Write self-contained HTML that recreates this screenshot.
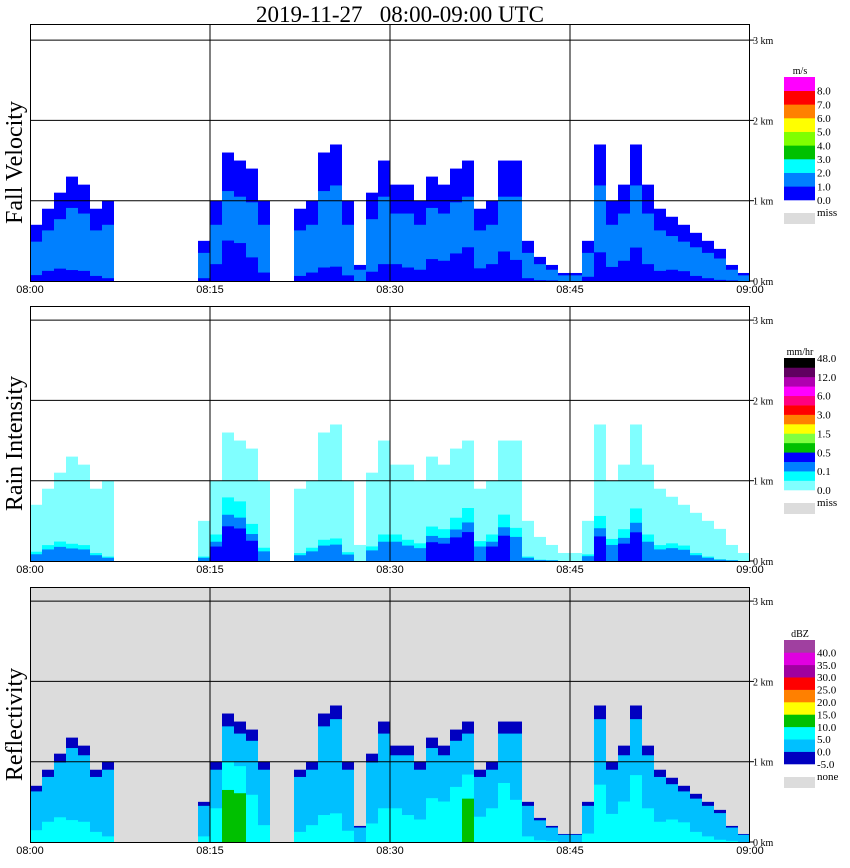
<!DOCTYPE html>
<html><head><meta charset="utf-8"><style>
html,body{margin:0;padding:0;background:#fff;}
svg{display:block;font-family:"Liberation Serif",serif;}
.t{font-family:"Liberation Sans",sans-serif;font-size:11px;}
</style></head><body>
<svg id="chart" width="850" height="868" viewBox="0 0 850 868" xmlns="http://www.w3.org/2000/svg">
<text x="400" y="22" text-anchor="middle" font-size="23" style="white-space:pre">2019-11-27&#160;&#160;&#160;08:00-09:00 UTC</text>
<g id="panels"></g>
</svg>
<script>
const minutes = [];
for (let i = 0; i < 60; i++) minutes.push(i);
const echoTop = [0.7,0.9,1.1,1.3,1.2,0.9,1.0,0,0,0,0,0,0,0,0.5,1.0,1.6,1.5,1.4,1.0,0,0,0.9,1.0,1.6,1.7,1.0,0.2,1.1,1.5,1.2,1.2,1.0,1.3,1.2,1.4,1.5,0.9,1.0,1.5,1.5,0.5,0.3,0.2,0.1,0.1,0.5,1.7,1.0,1.2,1.7,1.2,0.9,0.8,0.7,0.6,0.5,0.4,0.2,0.1];
const coreLevel = [0.3,0.4,0.4,0.3,0.3,0.2,0.1,0,0,0,0,0,0,0,0.2,0.6,0.9,0.9,0.6,0.3,0,0,0.2,0.3,0.3,0.3,0.2,0,0.3,0.4,0.5,0.4,0.4,0.6,0.6,0.7,0.8,0.5,0.6,0.7,0.5,0.2,0.1,0.1,0,0,0.3,0.6,0.5,0.6,0.7,0.5,0.4,0.5,0.5,0.3,0.2,0.1,0.1,0];
const timeTicks = ["08:00","08:15","08:30","08:45","09:00"];
const heightTicks = ["0 km","1 km","2 km","3 km"];
const velColors = ["#0000ff","#0080ff","#00ffff","#00c000","#80ff00","#ffff00","#ff8000","#ff0000","#ff00ff"];
const velLabels = ["0.0","1.0","2.0","3.0","4.0","5.0","6.0","7.0","8.0"];
const rainColors = ["#80ffff","#00ffff","#0080ff","#0000ff","#00c000","#80ff40","#ffff00","#ff8000","#ff0000","#ff0080","#ff00ff","#b000b0","#600060","#000000"];
const rainLabels = ["0.0","0.1","0.5","1.5","3.0","6.0","12.0","48.0"];
const dbzColors = ["#0000c0","#00c0ff","#00ffff","#00c000","#ffff00","#ff8000","#ff0000","#a000a0","#e000e0","#a040a0"];
const dbzLabels = ["-5.0","0.0","5.0","10.0","15.0","20.0","25.0","30.0","35.0","40.0"];

const NS="http://www.w3.org/2000/svg";
const G=document.getElementById('panels');
function mk(tag,attrs,parent){const e=document.createElementNS(NS,tag);for(const k in attrs)e.setAttribute(k,attrs[k]);(parent||G).appendChild(e);return e;}
const X0=30,X1=750;
function xScale(m){return X0+(X1-X0)*m/60;}

const panels=[
 {name:"fall-velocity",title:"Fall Velocity",top:24,zero:281,bg:"#ffffff",unit:"m/s",colors:velColors,labels:velLabels,legTop:77,legBot:200,miss:"miss",labEvery:1,
  layers:(c)=>[[1,"#0000ff"],[0.7,"#0080ff"],[0.35*c,"#0000ff"]]},
 {name:"rain-intensity",title:"Rain Intensity",top:306,zero:561,bg:"#ffffff",unit:"mm/hr",colors:rainColors,labels:rainLabels,legTop:358,legBot:490,miss:"miss",labEvery:2,
  layers:(c)=>[[1,"#80ffff"],[0.55*c,"#00ffff"],[0.4*c,"#0080ff"],[c>0.5?0.3*c:0,"#0000ff"]]},
 {name:"reflectivity",title:"Reflectivity",top:587,zero:842,bg:"#dcdcdc",unit:"dBZ",colors:dbzColors,labels:dbzLabels,legTop:640,legBot:764,miss:"none",labEvery:1,
  layers:(c)=>[[1,"#0000c0"],[0.9,"#00c0ff"],[0.7*c,"#00ffff"],[c>0.75?0.45*c:0,"#00c000"]]}
];
const KM=80.3;
panels.forEach((p,pi)=>{
  const g=mk('g',{});
  
  
  const bg=mk('rect',{x:X0,y:p.top,width:X1-X0,height:p.zero-p.top,fill:p.bg},g);
  
  
  minutes.forEach((m,i)=>{
    const top=echoTop[i]; if(top<=0) return;
    const x=xScale(m), w=xScale(m+1)-x;
    p.layers(coreLevel[i]).forEach(([f,col])=>{
      if(f<=0) return;
      const h=top*f*KM;
      const r=mk('rect',{x:x,y:p.zero-h,width:w,height:h,fill:col},g);
      
      
    });
  });
  for(let k=1;k<=3;k++){const y=p.zero-k*KM;const l=mk('line',{x1:X0,x2:X1,y1:y,y2:y,stroke:"#000","stroke-width":1},g);}
  for(let k=1;k<=3;k++){const x=xScale(k*15);const l=mk('line',{x1:x,x2:x,y1:p.top,y2:p.zero,stroke:"#000","stroke-width":1},g);}
  const fr=mk('rect',{x:X0+0.5,y:p.top+0.5,width:X1-X0-1,height:p.zero-p.top,fill:"none",stroke:"#000","stroke-width":1},g);
  
  
  heightTicks.forEach((t,k)=>{const y=p.zero-k*KM;
    mk('line',{x1:X1,x2:X1+4,y1:y,y2:y,stroke:"#000"},g);
    const tx=mk('text',{x:X1+3,y:y+4,"font-size":10},g);tx.textContent=t;
    });
  timeTicks.forEach((t,k)=>{const x=xScale(k*15);
    const tx=mk('text',{x:x,y:p.zero+12,"text-anchor":"middle",class:"t"},g);tx.textContent=t;
    });
  const yc=(p.top+p.zero)/2+10;
  const yl=mk('text',{x:0,y:0,"font-size":24,"text-anchor":"middle",transform:`translate(22,${yc}) rotate(-90)`},g);
  yl.textContent=p.title;
  
  const n=p.colors.length, bh=(p.legBot-p.legTop)/n;
  const ut=mk('text',{x:800,y:p.legTop-3,"font-size":10,"text-anchor":"middle"},g);ut.textContent=p.unit;
  
  p.colors.forEach((c,k)=>{const y=p.legBot-(k+1)*bh;
    const r=mk('rect',{x:784,y:y,width:31,height:bh+0.3,fill:c},g);
    });
  p.labels.forEach((t,k)=>{const y=p.legBot-k*p.labEvery*bh;
    const tx=mk('text',{x:817,y:y+4,"font-size":11},g);tx.textContent=t;
    });
  const mr=mk('rect',{x:784,y:p.legBot+13,width:31,height:11,fill:"#dcdcdc"},g);
  
  const mt=mk('text',{x:817,y:p.legBot+16,"font-size":11},g);mt.textContent=p.miss;
  
});
</script>
</body></html>
